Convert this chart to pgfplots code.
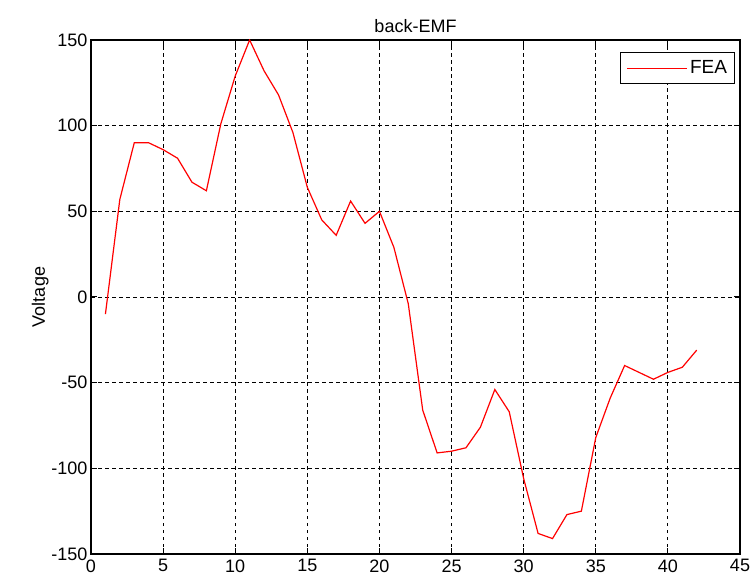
\documentclass[border=0pt]{standalone}
\usepackage{pgfplots}
\pgfplotsset{compat=1.18}
\usepackage{fontspec}
\setmainfont{Liberation Sans}
\begin{document}
\begin{tikzpicture}[x=1pt,y=1pt]
\begin{axis}[name=ax,
  scale only axis, width=649pt, height=514pt,
  at={(91pt,32pt)}, anchor=south west,
  xmin=0, xmax=45, ymin=-150, ymax=150,
  xtick={0,5,...,45}, ytick={-150,-100,...,150},
  tick align=inside, major tick length=6pt,
  xtick pos=both, ytick pos=both,
  grid=major,
  major grid style={black, line width=0.9pt, dash pattern=on 3.5pt off 3.5pt},
  axis line style={black, line width=1.1pt},
  tick style={black, line width=1pt},
  every tick label/.append style={font=\fontsize{18}{20}\selectfont},
  /pgf/number format/assume math mode=true,
  title={back-EMF},
  title style={font=\fontsize{18}{20}\selectfont, yshift=-2pt},
  ylabel={Voltage},
  ylabel style={font=\fontsize{18}{20}\selectfont, yshift=-4pt},
  xticklabel style={yshift=-2pt},
  legend style={at={(0.993,0.976)}, anchor=north east, draw=black, line width=1pt,
    font=\fontsize{19}{21}\selectfont, inner xsep=6pt, inner ysep=6pt},
  legend cell align=left,
  legend image code/.code={\draw[red, line width=1.2pt] (0pt,0pt) -- (60pt,0pt);},
]
\addplot[red, line width=1.2pt] coordinates {
(1,-10) (2,57) (3,90) (4,90) (5,86) (6,81) (7,67) (8,62) (9,101) (10,129)
(11,150) (12,132) (13,118) (14,96) (15,64) (16,45) (17,36) (18,56) (19,43) (20,50)
(21,29) (22,-4) (23,-66) (24,-91) (25,-90) (26,-88) (27,-76) (28,-54) (29,-67) (30,-106)
(31,-138) (32,-141) (33,-127) (34,-125) (35,-82) (36,-59) (37,-40) (38,-44) (39,-48) (40,-44)
(41,-41) (42,-31)
};
\addlegendentry{FEA}
\end{axis}
\path (0,0) rectangle (754,586);
\end{tikzpicture}
\end{document}
